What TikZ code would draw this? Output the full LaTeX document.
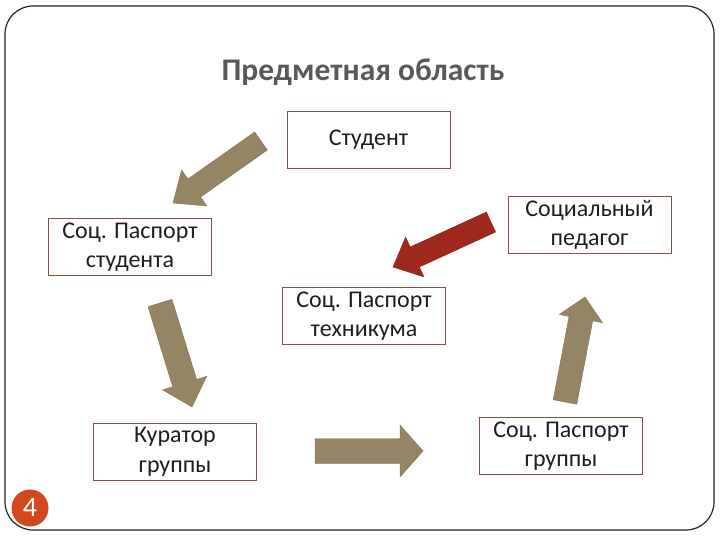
\documentclass[tikz,border=0pt]{standalone}
\usepackage{fontspec}
\setmainfont{Carlito}
\usetikzlibrary{calc}
\definecolor{framegray}{RGB}{35,35,35}
\definecolor{titlegray}{RGB}{89,89,89}
\definecolor{boxline}{RGB}{135,80,65}
\definecolor{boxtext}{RGB}{30,30,30}
\definecolor{tanfill}{RGB}{150,133,100}
\definecolor{redfill}{RGB}{158,40,30}
\definecolor{badgeorange}{RGB}{208,72,30}
\tikzset{
  pbox/.style={draw=boxline,line width=0.9pt,minimum width=163pt,minimum height=57pt,
    align=center,inner sep=2pt,text=boxtext,font=\fontsize{24}{29.5}\selectfont},
  tanarrow/.style={fill=tanfill,draw=tanfill!85!black,line width=0.4pt},
  redarrow/.style={fill=redfill,draw=redfill!85!black,line width=0.4pt},
  titletext/.style={font=\bfseries\fontsize{31.5}{33}\selectfont,text=titlegray},
  badge/.style={circle,fill=badgeorange,minimum size=37pt,inner sep=0pt,text=white,
    font=\fontsize{28}{28}\selectfont}
}
% block arrow: tail, tip, shaft half width, head half width, head length, style
\newcommand{\fatarrow}[6]{%
  \path ($(#2)!#5!(#1)$) coordinate (fa-base);
  \path[#6] ($(#1)!#3!90:(#2)$) -- ($(fa-base)!#3!90:(#2)$) -- ($(fa-base)!#4!90:(#2)$)
    -- (#2) -- ($(fa-base)!#4!-90:(#2)$) -- ($(fa-base)!#3!-90:(#2)$)
    -- ($(#1)!#3!-90:(#2)$) -- cycle;
}

\begin{document}
\begin{tikzpicture}[x=1pt,y=-1pt]
  \useasboundingbox (0,0) rectangle (720,540);
  \draw[framegray,line width=1.2pt,rounded corners=28pt] (5,6) rectangle (714,530);

  \node[titletext] (title) at (363,72) {Предметная область};

  \node[pbox] (stud) at (368.5,140) {Студент};
  \node[pbox] (pstud) at (130,247) {Соц. Паспорт\\студента};
  \node[pbox] (ped) at (589.5,225) {Социальный\\педагог};
  \node[pbox] (ptech) at (364,316) {Соц. Паспорт\\техникума};
  \node[pbox] (kur) at (175,451.5) {Куратор\\группы};
  \node[pbox] (pgrp) at (561,446) {Соц. Паспорт\\группы};

  % arrow ends
  \coordinate (t1) at (261,141);  \coordinate (h1) at (173,203);
  \coordinate (t2) at (491,222);  \coordinate (h2) at (393,267);
  \coordinate (t3) at (160,303);  \coordinate (h3) at (192,407);
  \coordinate (t4) at (315,451);  \coordinate (h4) at (423,451);
  \coordinate (t5) at (565,402);  \coordinate (h5) at (585,297);

  \fatarrow{t1}{h1}{11pt}{22pt}{26pt}{tanarrow}
  \fatarrow{t2}{h2}{11pt}{22pt}{24pt}{redarrow}
  \fatarrow{t3}{h3}{12.5pt}{23pt}{25pt}{tanarrow}
  \fatarrow{t4}{h4}{12.5pt}{26pt}{23pt}{tanarrow}
  \fatarrow{t5}{h5}{12pt}{22pt}{22pt}{tanarrow}

  \node[badge] (num) at (30,508) {4};
\end{tikzpicture}
\end{document}
